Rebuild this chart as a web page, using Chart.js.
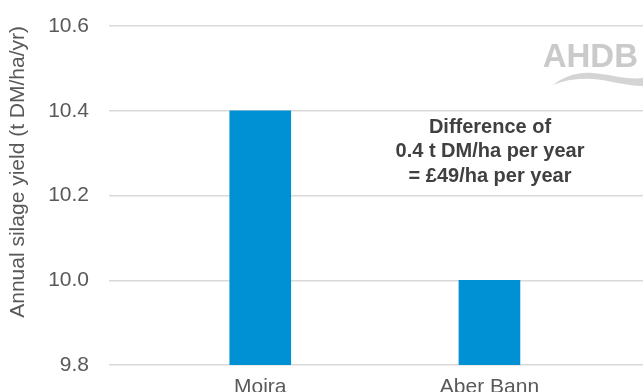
<!DOCTYPE html>
<html>
<head>
<meta charset="utf-8">
<script src="https://cdn.jsdelivr.net/npm/chart.js@4"></script>
<style>
  html, body { margin: 0; padding: 0; background: #fff; overflow: hidden; }
  canvas { display: block; }
</style>
</head>
<body>
<canvas id="graphique" width="643" height="392"></canvas>
<script>
const varieties = ["Moira", "Aber Bann"]
const yields = [10.40, 10.00]
const yTicks = [9.8, 10.0, 10.2, 10.4, 10.6]
const noteLines = ["Difference of", "0.4 t DM/ha per year", "= £49/ha per year"]

const gris = "#595959"
const police = "'Liberation Sans', Arial, sans-serif"

// texte d'annotation + logo AHDB
const decor = {
    id: "decor",
    afterDraw(chart) {
        const ctx = chart.ctx
        ctx.save()
        ctx.fillStyle = "#404040"
        ctx.font = "bold 20px " + police
        ctx.textAlign = "center"
        ctx.textBaseline = "middle"
        noteLines.forEach((l, i) => ctx.fillText(l, 490, 127 + i * 24.5))

        // logo
        ctx.fillStyle = "#cacaca"
        ctx.font = "bold 33px " + police
        ctx.textAlign = "right"
        ctx.textBaseline = "alphabetic"
        ctx.fillText("AHDB", 638, 67)
        ctx.fillStyle = "#d4d4d4"
        ctx.beginPath()
        ctx.moveTo(553, 85)
        ctx.bezierCurveTo(565, 76, 578, 72, 592, 73)
        ctx.bezierCurveTo(610, 74, 625, 80, 643, 78)
        ctx.lineTo(643, 86)
        ctx.bezierCurveTo(625, 86, 610, 80, 592, 79)
        ctx.bezierCurveTo(578, 78, 565, 80, 553, 85)
        ctx.closePath()
        ctx.fill()
        ctx.restore()
    }
}

const data = {
    datasets: [{
        label: "Annual silage yield",
        data: yields.map((v, i) => ({ x: i, y: v })),
        backgroundColor: "#0091d5",
        barThickness: 61,
    }],
}

const config = {
    type: "bar",
    data: data,
    options: {
        responsive: false,
        animation: false,
        layout: { padding: { top: 26, right: 0, left: 0, bottom: 0 } },
        plugins: { legend: { display: false }, tooltip: { enabled: false } },
        scales: {
            x: {
                type: "linear",
                offset: false,
                min: -0.66,
                max: 1.67,
                grid: { display: false },
                border: { display: false },
                afterBuildTicks: (scale) => { scale.ticks = varieties.map((c, i) => ({ value: i })) },
                afterFit: (scale) => { scale.height = 27; scale.paddingLeft = 0; scale.paddingRight = 0 },
                ticks: {
                    callback: (v) => varieties[v],
                    color: gris,
                    font: { family: police, size: 21 },
                    padding: 2,
                    maxRotation: 0,
                },
            },
            y: {
                min: 9.8,
                max: 10.6,
                afterBuildTicks: (scale) => { scale.ticks = yTicks.map(v => ({ value: v })) },
                afterFit: (scale) => { scale.width = 109; scale.paddingTop = 0; scale.paddingBottom = 0 },
                grid: { color: "#d9d9d9", lineWidth: 1.5, drawTicks: false },
                border: { display: false },
                ticks: {
                    callback: (v) => v.toFixed(1),
                    color: gris,
                    font: { family: police, size: 21 },
                    padding: 20,
                },
                title: {
                    display: true,
                    text: "Annual silage yield (t DM/ha/yr)",
                    color: gris,
                    font: { family: police, size: 21 },
                    align: "end",
                    padding: { top: 6, bottom: 0 },
                },
            },
        },
    },
    plugins: [decor],
}

const graphique = new Chart(document.querySelector("#graphique"), config)
</script>
</body>
</html>
